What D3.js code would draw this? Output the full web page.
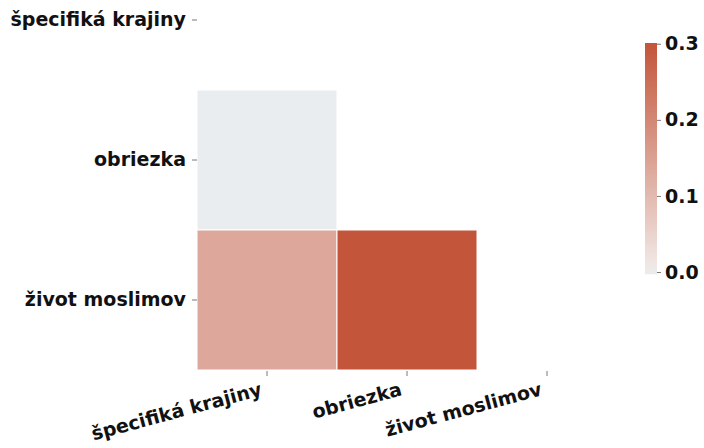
<!DOCTYPE html>
<html>
<head>
<meta charset="utf-8">
<script src="https://cdn.jsdelivr.net/npm/d3@7"></script>
<style>
  body { margin: 0; background: #fff; }
  text { font-family: "DejaVu Sans", sans-serif; font-weight: bold; fill: #111; }
</style>
</head>
<body>
<svg id="chart" width="704" height="448"></svg>
<script>
// categories (rows and columns are the same list)
const categories = ['špecifiká krajiny', 'obriezka', 'život moslimov'];
// lower triangle of the correlation matrix, null = masked
const corrRows = [
    [null, null, null],
    [-0.003, null, null],
    [0.135, 0.301, null]
];
const cbarTicks = [0.0, 0.1, 0.2, 0.3];
const vmin = -0.003, vmax = 0.301;

const svg = d3.select('#chart');
const fontSize = 19;

var x = d3.scaleBand().domain(categories).range([197, 617]);
var y = d3.scaleBand().domain(categories).range([-50, 370]);

var color = d3.scaleLinear()
    .domain([vmin, 0, vmax])
    .range(['#e9edef', '#f2ecea', '#c3553a'])
    .clamp(true);

var cells = [];
corrRows.forEach((row, i) => {
    row.forEach((v, j) => {
        if (v !== null) cells.push({row: categories[i], col: categories[j], value: v});
    });
});

svg.append('g')
    .selectAll('rect')
    .data(cells)
    .enter()
    .append('rect')
    .attr('x', d => x(d.col))
    .attr('y', d => y(d.row))
    .attr('width', x.bandwidth())
    .attr('height', y.bandwidth())
    .attr('fill', d => color(d.value))
    .attr('stroke', '#fff')
    .attr('stroke-width', 1);

// y axis
var yAxis = svg.append('g')
    .attr('transform', 'translate(197,0)')
    .call(d3.axisLeft(y).tickSize(5).tickPadding(6));
yAxis.select('.domain').remove();
yAxis.selectAll('.tick line').attr('stroke', '#555').attr('stroke-width', 0.8);
yAxis.selectAll('.tick text')
    .attr('font-size', fontSize)
    .attr('font-family', '"DejaVu Sans", sans-serif')
    .attr('font-weight', 'bold')
    .attr('fill', '#111');

// x axis
var xAxis = svg.append('g')
    .attr('transform', 'translate(0,371)')
    .call(d3.axisBottom(x).tickSize(5).tickPadding(0));
xAxis.select('.domain').remove();
xAxis.selectAll('.tick line').attr('stroke', '#555').attr('stroke-width', 0.8);
xAxis.selectAll('.tick text')
    .attr('font-size', fontSize)
    .attr('font-family', '"DejaVu Sans", sans-serif')
    .attr('font-weight', 'bold')
    .attr('fill', '#111')
    .attr('dy', null)
    .attr('y', null)
    .attr('text-anchor', 'end')
    .attr('transform', 'translate(-4,24) rotate(-15)');

// colorbar
var cbY = d3.scaleLinear().domain([vmin, vmax]).range([274.3, 43]);
var cbX = 645, cbW = 12;

var defs = svg.append('defs');
var grad = defs.append('linearGradient')
    .attr('id', 'cbgrad')
    .attr('x1', 0).attr('y1', 1).attr('x2', 0).attr('y2', 0);
d3.range(0, 1.0001, 0.05).forEach(t => {
    var v = vmin + t * (vmax - vmin);
    grad.append('stop').attr('offset', t).attr('stop-color', color(v));
});

svg.append('rect')
    .attr('x', cbX)
    .attr('y', cbY(vmax))
    .attr('width', cbW)
    .attr('height', cbY(vmin) - cbY(vmax))
    .attr('fill', 'url(#cbgrad)');

var cAxis = svg.append('g')
    .attr('transform', `translate(${cbX + cbW},0)`)
    .call(d3.axisRight(cbY).tickValues(cbarTicks).tickFormat(d3.format('.1f')).tickSize(4).tickPadding(4));
cAxis.select('.domain').remove();
cAxis.selectAll('.tick line').attr('stroke', '#555').attr('stroke-width', 0.8);
cAxis.selectAll('.tick text')
    .attr('font-size', fontSize)
    .attr('font-family', '"DejaVu Sans", sans-serif')
    .attr('font-weight', 'bold')
    .attr('fill', '#111');
</script>
</body>
</html>
